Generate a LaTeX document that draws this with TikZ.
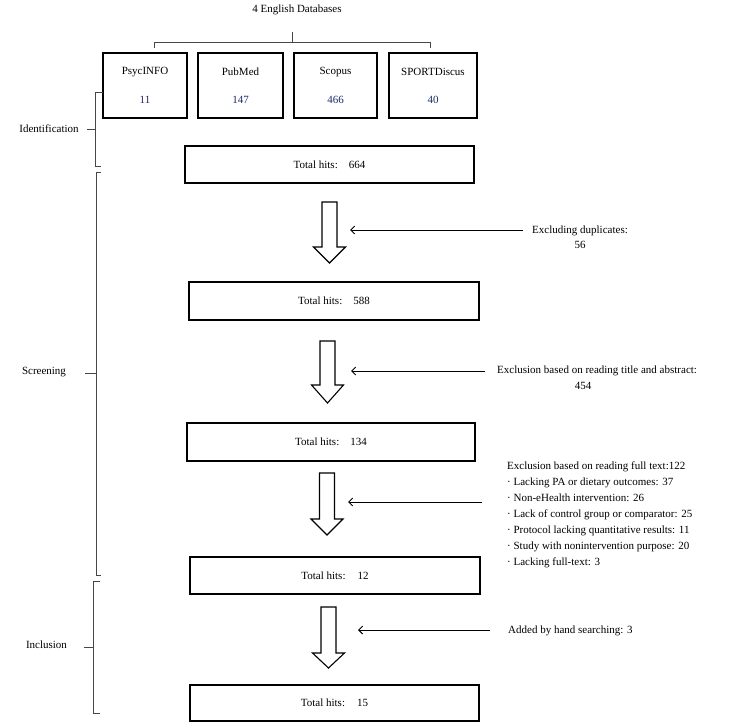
\documentclass[tikz,border=0pt]{standalone}
\usepackage{fontspec}
\setmainfont{Liberation Serif}
\usetikzlibrary{arrows.meta}
\definecolor{numblue}{RGB}{30,40,105}
\definecolor{brk}{RGB}{70,70,70}
\newcommand\BlockArrow[5]{% name, cx, top, headstart, tip
  \draw[barrow] ({#2-7.5},#3) -- ({#2+7.5},#3) -- ({#2+7.5},#4) -- ({#2+16},#4)
    -- (#2,#5) coordinate (#1) -- ({#2-16},#4) -- ({#2-7.5},#4) -- cycle;}
\begin{document}
\begin{tikzpicture}[x=1pt,y=-1pt,
  every node/.style={font=\fontsize{11}{13}\selectfont, inner sep=0pt},
  box/.style={draw, line width=1.3pt, rectangle, inner sep=0pt},
  harrow/.style={line width=0.9pt, -{Straight Barb[length=4pt,width=8pt,line width=0.9pt]}},
  barrow/.style={draw, line width=1.1pt, fill=white, line join=miter},
  brace/.style={draw=brk, line width=0.9pt}]
\useasboundingbox (0,0) rectangle (733,727);

% title and top brace
\node (title) at (297,10) {4 English Databases};
\draw[brace] (154,48) -- (154,42) -- (430,42) -- (430,48);
\draw[brace] (292,42) -- (292,32);

% database boxes
\node[box, minimum width=84pt, minimum height=65pt] (psyc) at (145,85.5) {};
\node (psycn) at (145,72) {PsycINFO};
\node[text=numblue] (psycv) at (145,100) {11};
\node[box, minimum width=85pt, minimum height=65pt] (pubm) at (240.5,85.5) {};
\node (pubmn) at (240.5,72) {PubMed};
\node[text=numblue] (pubmv) at (240.5,100) {147};
\node[box, minimum width=83pt, minimum height=65pt] (scop) at (335.5,85.5) {};
\node (scopn) at (335.5,72) {Scopus};
\node[text=numblue] (scopv) at (335.5,100) {466};
\node[box, minimum width=88pt, minimum height=65pt] (sport) at (433,85.5) {};
\node (sportn) at (433,72) {SPORTDiscus};
\node[text=numblue] (sportv) at (433,100) {40};

% total boxes
\node[box, minimum width=289pt, minimum height=37pt] (t664) at (329.5,164.5) {Total hits:\hspace{11pt}664};
\node[box, minimum width=290pt, minimum height=38pt] (t588) at (334,301) {Total hits:\hspace{11pt}588};
\node[box, minimum width=288pt, minimum height=38pt] (t134) at (331,442) {Total hits:\hspace{11pt}134};
\node[box, minimum width=290pt, minimum height=37pt] (t12) at (335,575.5) {Total hits:\hspace{12pt}12};
\node[box, minimum width=289pt, minimum height=36pt] (t15) at (334.5,703) {Total hits:\hspace{12pt}15};

% block arrows
\BlockArrow{a1}{329.5}{202}{247}{263}
\BlockArrow{a2}{327.5}{341}{385}{403}
\BlockArrow{a3}{327}{473}{519}{535}
\BlockArrow{a4}{328.5}{607}{653}{668}

% side notes
\node[anchor=west] (exd) at (532,231) {Excluding duplicates:};
\node (exdv) at (580,245) {56};
\node[anchor=west] (exta) at (497,371) {Exclusion based on reading title and abstract:};
\node (extav) at (583,386) {454};
\node[anchor=west, align=left, font=\fontsize{11}{16}\selectfont] (exft) at (507,515)
  {Exclusion based on reading full text:122\\
   · Lacking PA or dietary outcomes: 37\\
   · Non-eHealth intervention: 26\\
   · Lack of control group or comparator: 25\\
   · Protocol lacking quantitative results: 11\\
   · Study with nonintervention purpose: 20\\
   · Lacking full-text: 3};
\node[anchor=west] (added) at (508,631) {Added by hand searching: 3};

% horizontal arrows
\coordinate (h1s) at (523,230); \coordinate (h1e) at (350,230);
\coordinate (h2s) at (485,371); \coordinate (h2e) at (351,371);
\coordinate (h3s) at (482,502); \coordinate (h3e) at (348,502);
\coordinate (h4s) at (490,630); \coordinate (h4e) at (358,630);
\draw[harrow] (h1s) -- (h1e);
\draw[harrow] (h2s) -- (h2e);
\draw[harrow] (h3s) -- (h3e);
\draw[harrow] (h4s) -- (h4e);

% left phase brackets
\draw[brace] (103,92) -- (95,92) -- (95,166) -- (101,166);
\draw[brace] (95,129) -- (87,129);
\node (lid) at (49,129) {Identification};
\draw[brace] (101,172) -- (96,172) -- (96,575) -- (101,575);
\draw[brace] (96,373) -- (85,373);
\node (lsc) at (44,372) {Screening};
\draw[brace] (100,581) -- (93,581) -- (93,713) -- (100,713);
\draw[brace] (93,647) -- (84,647);
\node (lin) at (46.5,645) {Inclusion};
\end{tikzpicture}
\end{document}
